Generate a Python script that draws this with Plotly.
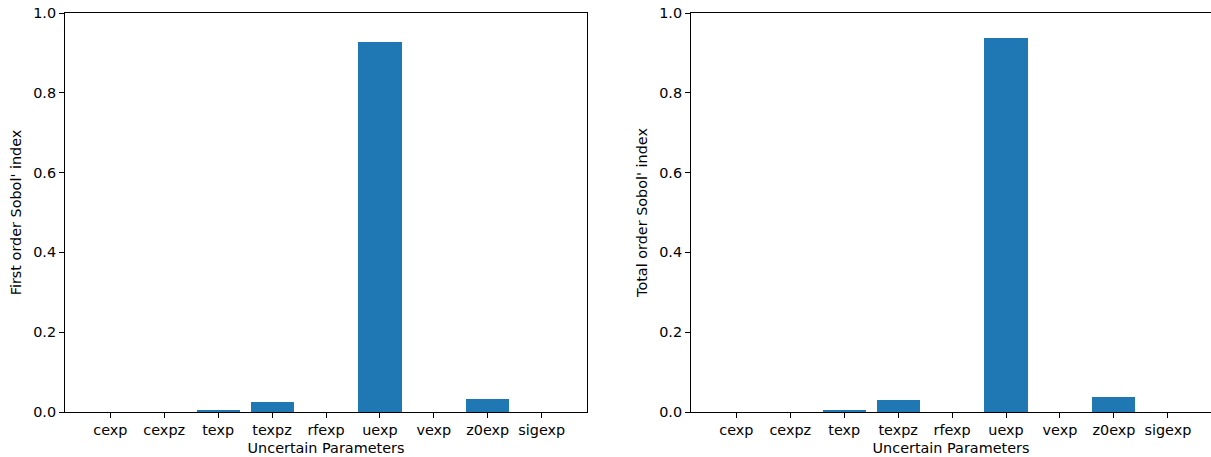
import plotly.graph_objects as go

params = ["cexp", "cexpz", "texp", "texpz", "rfexp", "uexp", "vexp", "z0exp", "sigexp"]
first_order = [0.0, 0.0, 0.003, 0.025, 0.0, 0.927, 0.0, 0.032, 0.0]
total_order = [0.0, 0.0, 0.003, 0.030, 0.0, 0.937, 0.0, 0.038, 0.0]
yticks = [0.0, 0.2, 0.4, 0.6, 0.8, 1.0]

BAR = "#1f77b4"
FONT = dict(family="DejaVu Sans", size=14.4, color="black")

fig = go.Figure()
fig.add_trace(go.Bar(x=params, y=first_order, width=0.8, marker=dict(color=BAR, line=dict(width=0)),
                     xaxis="x", yaxis="y", showlegend=False))
fig.add_trace(go.Bar(x=params, y=total_order, width=0.8, marker=dict(color=BAR, line=dict(width=0)),
                     xaxis="x2", yaxis="y2", showlegend=False))

W, H = 1211, 457
common_x = dict(type="category", showline=True, mirror=True, linecolor="black",
                linewidth=1, ticks="outside", ticklen=5, tickwidth=1, tickcolor="black",
                showgrid=False, zeroline=False, tickfont=FONT, automargin=False)
common_y = dict(range=[0, 1], tickvals=yticks, tickformat=".1f", showline=True,
                linecolor="black", linewidth=1, ticks="outside", ticklen=5, tickwidth=1,
                tickcolor="black", showgrid=False, zeroline=False, tickfont=FONT, automargin=False)

fig.update_layout(
    width=W, height=H,
    margin=dict(l=0, r=0, t=13, b=45),
    paper_bgcolor="white", plot_bgcolor="white",
    font=FONT,
    bargap=0,
    xaxis=dict(common_x, range=[-0.84, 8.84], domain=[65 / 1211, 587 / 1211], anchor="y",
               title=dict(text="Uncertain Parameters", font=FONT, standoff=5)),
    yaxis=dict(common_y, mirror=True, domain=[0, 1], anchor="x",
               title=dict(text="First order Sobol' index", font=FONT, standoff=8)),
    xaxis2=dict(common_x, range=[-0.84, 8.80], domain=[691 / 1211, 1.0], anchor="y2",
                title=dict(text="Uncertain Parameters", font=FONT, standoff=5)),
    yaxis2=dict(common_y, mirror=False, domain=[0, 1], anchor="x2",
                title=dict(text="Total order Sobol' index", font=FONT, standoff=8)),
)

fig.write_html("out.html")
